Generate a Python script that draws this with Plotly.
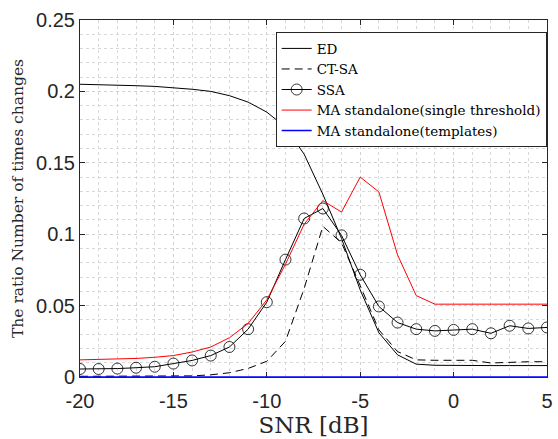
import plotly.graph_objects as go

snr = list(range(-20, 6))
x_tick_vals = [-20, -15, -10, -5, 0, 5]
x_tick_text = ["-20", "-15", "-10", "-5", "0", "5"]
y_tick_vals = [0, 0.05, 0.1, 0.15, 0.2, 0.25]
y_tick_text = ["0", "0.05", "0.1", "0.15", "0.2", "0.25"]

ed = [0.205, 0.2048, 0.2045, 0.204, 0.2035, 0.2027, 0.2015, 0.2, 0.197, 0.1925,
      0.1855, 0.175, 0.156, 0.128, 0.097, 0.061, 0.031, 0.0155, 0.009, 0.0082,
      0.008, 0.008, 0.008, 0.008, 0.008, 0.008]

ct_sa = [0.0005, 0.0005, 0.0005, 0.0005, 0.0005, 0.0005, 0.0008, 0.0015, 0.003, 0.006,
         0.011, 0.025, 0.062, 0.1055, 0.094, 0.064, 0.033, 0.0178, 0.012, 0.0117,
         0.0117, 0.0117, 0.0098, 0.0105, 0.0107, 0.0107]

ssa = [0.0056, 0.0056, 0.0059, 0.0065, 0.0072, 0.0094, 0.0116, 0.015, 0.021, 0.0335,
       0.0524, 0.0822, 0.111, 0.118, 0.0992, 0.0716, 0.0494, 0.0381, 0.0335, 0.0323,
       0.033, 0.0335, 0.0306, 0.0359, 0.034, 0.0347]

ma_single = [0.012, 0.0123, 0.0126, 0.013, 0.0138, 0.015, 0.0175, 0.021, 0.0275, 0.0375,
             0.054, 0.079, 0.107, 0.1235, 0.1155, 0.14, 0.1296, 0.0855, 0.057, 0.051,
             0.051, 0.051, 0.051, 0.051, 0.051, 0.051]

ma_templates = [0.0] * len(snr)

SERIF = "DejaVu Serif"
SANS = "Liberation Sans, Arial"

fig = go.Figure()
fig.add_trace(go.Scatter(x=snr, y=ed, mode="lines", name="ED",
                         line=dict(color="black", width=1)))
fig.add_trace(go.Scatter(x=snr, y=ct_sa, mode="lines", name="CT-SA",
                         line=dict(color="black", width=1, dash="8px,5px")))
fig.add_trace(go.Scatter(x=snr, y=ssa, mode="lines+markers", name="SSA",
                         line=dict(color="black", width=1),
                         marker=dict(symbol="circle-open", size=11, color="black",
                                     line=dict(width=0.8, color="black"))))
fig.add_trace(go.Scatter(x=snr, y=ma_single, mode="lines",
                         name="MA standalone(single threshold)",
                         line=dict(color="red", width=1)))
fig.add_trace(go.Scatter(x=snr, y=ma_templates, mode="lines",
                         name="MA standalone(templates)",
                         line=dict(color="blue", width=1.5), cliponaxis=False))

axis_common = dict(
    showline=True, linecolor="#262626", linewidth=1, mirror="ticks",
    ticks="inside", ticklen=5, tickcolor="#262626",
    showgrid=True, gridcolor="#d0d0d0", griddash="dot", gridwidth=1,
    zeroline=False,
    tickfont=dict(family=SANS, size=20, color="#262626"),
    layer="below traces",
    ticklabeloverflow="allow",
)

fig.update_layout(
    width=558, height=439,
    margin=dict(l=80, r=5, t=20, b=62),
    plot_bgcolor="white", paper_bgcolor="white",
    xaxis=dict(range=[-20, 5], tickmode="array", tickvals=x_tick_vals, ticktext=x_tick_text,
               ticklabelstandoff=6,
               minor=dict(dtick=1, tick0=-20, showgrid=True, gridcolor="#d8d8d8", griddash="dot"),
               title=dict(text="SNR [dB]", standoff=4,
                          font=dict(family=SERIF, size=23, color="#262626")),
               **axis_common),
    yaxis=dict(range=[0, 0.25], tickmode="array", tickvals=y_tick_vals, ticktext=y_tick_text,
               minor=dict(dtick=0.01, tick0=0, showgrid=True, gridcolor="#d8d8d8", griddash="dot"),
               title=dict(text="The ratio Number of times changes", standoff=8,
                          font=dict(family=SERIF, size=15.5, color="#262626")),
               **axis_common),
    legend=dict(x=0.419, y=0.966, xanchor="left", yanchor="top",
                bgcolor="white", bordercolor="#262626", borderwidth=1,
                font=dict(family=SERIF, size=13.5, color="black"),
                tracegroupgap=0, itemwidth=30),
    showlegend=True,
)

fig.write_html("out.html")
